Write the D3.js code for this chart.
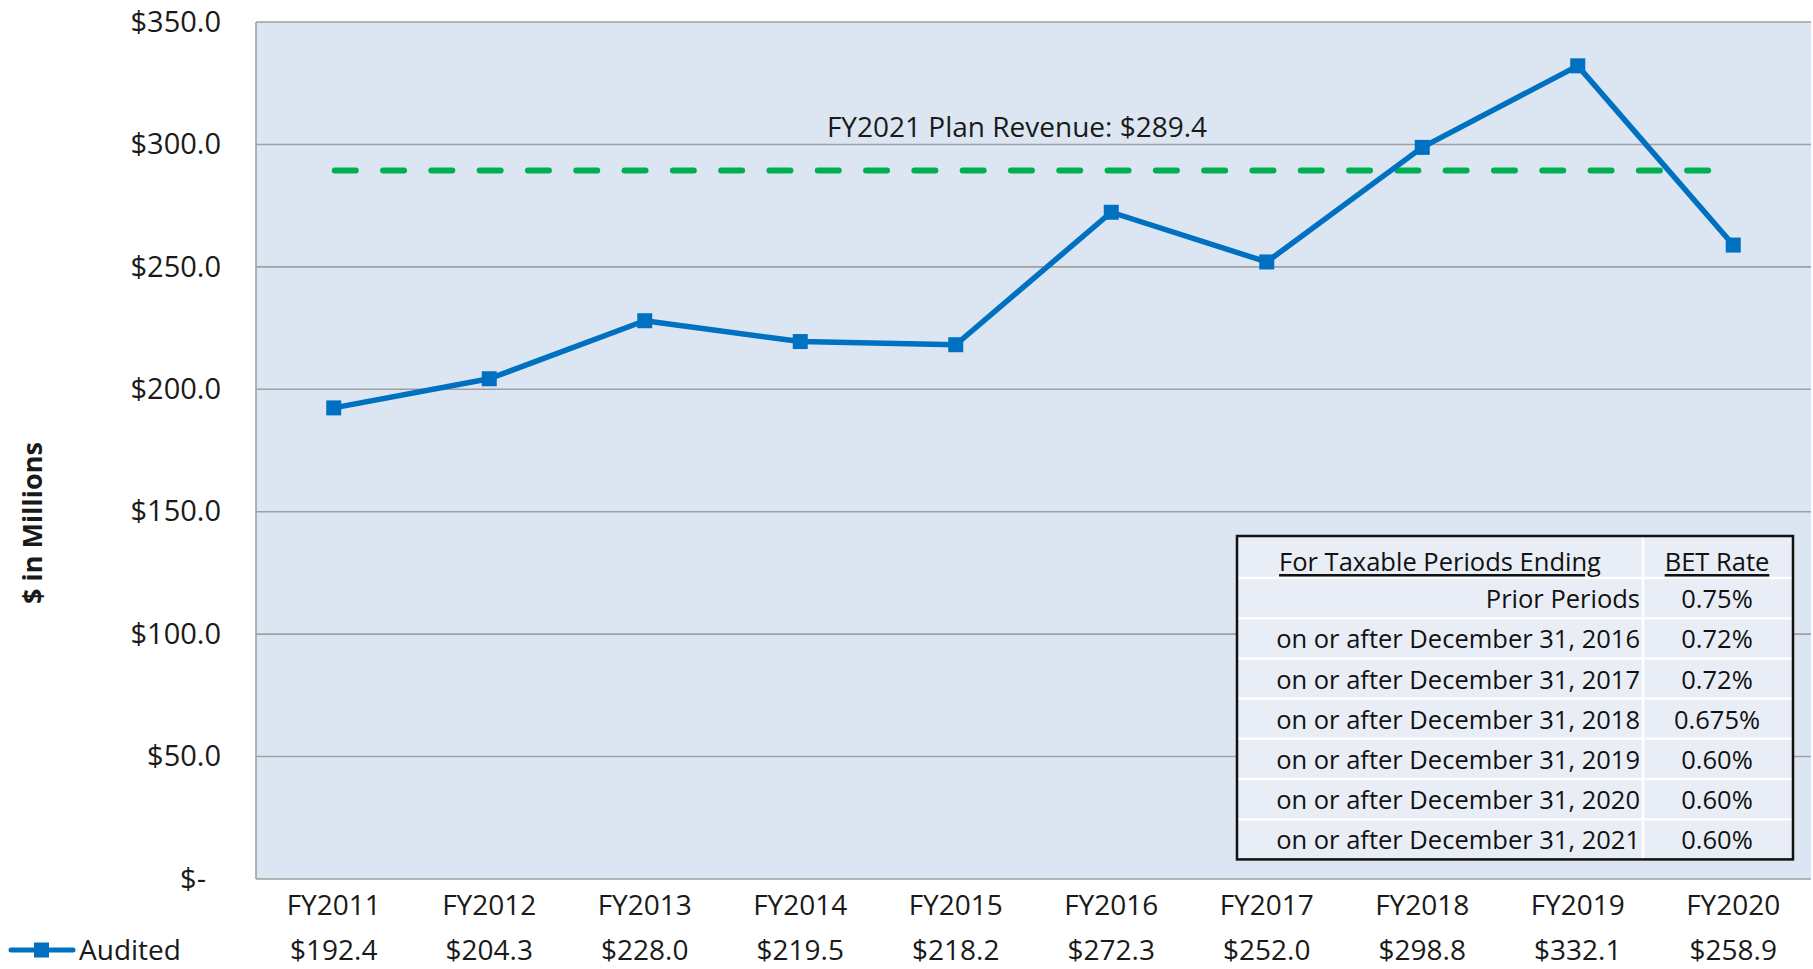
<!DOCTYPE html>
<html>
<head>
<meta charset="utf-8">
<script src="https://cdn.jsdelivr.net/npm/d3@7"></script>
<style>
  html, body { margin: 0; padding: 0; background: #fff; }
  svg { display: block; font-family: "Open Sans", sans-serif; }
</style>
</head>
<body>
<svg id="chart" width="1813" height="969"></svg>
<script>
const categories = ["FY2011","FY2012","FY2013","FY2014","FY2015","FY2016","FY2017","FY2018","FY2019","FY2020"];
const audited = [192.4, 204.3, 228.0, 219.5, 218.2, 272.3, 252.0, 298.8, 332.1, 258.9];
const planRevenue = 289.4;
const planLabel = "FY2021 Plan Revenue: $289.4";
const yTicks = [0, 50, 100, 150, 200, 250, 300, 350];
const tableHeader = ["For Taxable Periods Ending", "BET Rate"];
const tablePeriods = ["Prior Periods","on or after December 31, 2016","on or after December 31, 2017","on or after December 31, 2018","on or after December 31, 2019","on or after December 31, 2020","on or after December 31, 2021"];
const tableRates = ["0.75%","0.72%","0.72%","0.675%","0.60%","0.60%","0.60%"];

const svg = d3.select("#chart");
const L = 256, T = 22, R = 1811, B = 879;
const blue = "#0070C0";
const textCol = "#1a1a1a";

const x = d3.scaleBand().domain(categories).range([L, R]);
const cx = d => x(d) + x.bandwidth() / 2;
const y = d3.scaleLinear().domain([0, 350]).range([B, T]);

// plot background
svg.append("rect").attr("x", L).attr("y", T).attr("width", R - L).attr("height", B - T)
  .attr("fill", "#DCE6F2");

// gridlines
svg.append("g").selectAll("line").data(yTicks).join("line")
  .attr("x1", L).attr("x2", R).attr("y1", d => y(d)).attr("y2", d => y(d))
  .attr("stroke", "#A0A0A0").attr("stroke-width", 1.6);
svg.append("line").attr("x1", L).attr("x2", L).attr("y1", T).attr("y2", B)
  .attr("stroke", "#A0A0A0").attr("stroke-width", 1.6);

// y axis labels
const fmt = v => v === 0 ? "$-" : "$" + v.toFixed(1);
const yAxis = d3.axisLeft(y).tickValues(yTicks).tickFormat(fmt).tickSize(0).tickPadding(35);
const yg = svg.append("g").attr("transform", `translate(${L},0)`).call(yAxis);
yg.select(".domain").remove();
yg.selectAll("text").attr("font-size", 29).attr("fill", textCol).attr("font-family", "Open Sans");
yg.selectAll(".tick").filter(d => d === 0).select("text").attr("dx", -15);

// y axis title
svg.append("text").attr("transform", "translate(31,523) rotate(-90)")
  .attr("text-anchor", "middle").attr("dominant-baseline", "central")
  .attr("font-size", 27).attr("font-weight", "bold").attr("fill", textCol)
  .text("$ in Millions");

// x axis labels
const xAxis = d3.axisBottom(x).tickSize(0).tickPadding(0);
const xg = svg.append("g").attr("transform", `translate(0,${B})`).call(xAxis);
xg.select(".domain").remove();
xg.selectAll("text").attr("font-size", 28).attr("fill", textCol).attr("font-family", "Open Sans")
  .attr("dy", null).attr("y", 25).attr("dominant-baseline", "central");

// data table row (values)
svg.append("g").selectAll("text").data(audited).join("text")
  .attr("x", (d, i) => cx(categories[i])).attr("y", 949)
  .attr("text-anchor", "middle").attr("dominant-baseline", "central")
  .attr("font-size", 28).attr("fill", textCol)
  .text(d => "$" + d.toFixed(1));

// legend key
svg.append("line").attr("x1", 11).attr("x2", 73).attr("y1", 950).attr("y2", 950)
  .attr("stroke", blue).attr("stroke-width", 5).attr("stroke-linecap", "round");
svg.append("rect").attr("x", 34).attr("y", 942.5).attr("width", 15).attr("height", 15).attr("fill", blue);
svg.append("text").attr("x", 79).attr("y", 949).attr("dominant-baseline", "central")
  .attr("font-size", 28).attr("fill", textCol).text("Audited");

// plan line
svg.append("line")
  .attr("x1", cx(categories[0]) + 1).attr("x2", cx(categories[categories.length - 1]))
  .attr("y1", y(planRevenue)).attr("y2", y(planRevenue))
  .attr("stroke", "#00B050").attr("stroke-width", 6).attr("stroke-linecap", "round")
  .attr("stroke-dasharray", "21,27.3");
svg.append("text").attr("x", 1017).attr("y", 126)
  .attr("text-anchor", "middle").attr("dominant-baseline", "central")
  .attr("font-size", 28).attr("fill", textCol).text(planLabel);

// audited line
const line = d3.line().x((d, i) => cx(categories[i])).y(d => y(d));
svg.append("path").datum(audited).attr("d", line)
  .attr("fill", "none").attr("stroke", blue).attr("stroke-width", 5.5).attr("stroke-linejoin", "round");
svg.append("g").selectAll("rect").data(audited).join("rect")
  .attr("x", (d, i) => cx(categories[i]) - 7.5).attr("y", d => y(d) - 7.5)
  .attr("width", 15).attr("height", 15).attr("fill", blue);

// rate table
const tX = 1237, tW = 556, tY = 536, colX = 1643;
const headH = 42, rowH = 40.2;
const tH = headH + rowH * tablePeriods.length;
const tg = svg.append("g");
tg.append("rect").attr("x", tX).attr("y", tY).attr("width", tW).attr("height", tH)
  .attr("fill", "#E9EEF6");
tablePeriods.forEach((p, i) => {
  const yy = tY + headH + rowH * i;
  tg.append("line").attr("x1", tX).attr("x2", tX + tW).attr("y1", yy).attr("y2", yy)
    .attr("stroke", "#fff").attr("stroke-width", 2.5);
});
tg.append("line").attr("x1", colX).attr("x2", colX).attr("y1", tY).attr("y2", tY + tH)
  .attr("stroke", "#fff").attr("stroke-width", 2.5);
tg.append("rect").attr("x", tX).attr("y", tY).attr("width", tW).attr("height", tH)
  .attr("fill", "none").attr("stroke", "#111").attr("stroke-width", 2.5);

const tfs = 25.5;
tg.append("text").attr("x", 1440).attr("y", tY + 25).attr("text-anchor", "middle")
  .attr("dominant-baseline", "central").attr("font-size", tfs).attr("fill", "#111")
  .attr("text-decoration", "underline").text(tableHeader[0]);
tg.append("text").attr("x", 1717).attr("y", tY + 25).attr("text-anchor", "middle")
  .attr("dominant-baseline", "central").attr("font-size", tfs).attr("fill", "#111")
  .attr("text-decoration", "underline").text(tableHeader[1]);
tg.selectAll("text.period").data(tablePeriods).join("text").attr("class", "period")
  .attr("x", 1640).attr("y", (d, i) => tY + headH + rowH * i + rowH / 2)
  .attr("text-anchor", "end").attr("dominant-baseline", "central")
  .attr("font-size", tfs).attr("fill", "#111").text(d => d);
tg.selectAll("text.rate").data(tableRates).join("text").attr("class", "rate")
  .attr("x", 1717).attr("y", (d, i) => tY + headH + rowH * i + rowH / 2)
  .attr("text-anchor", "middle").attr("dominant-baseline", "central")
  .attr("font-size", tfs).attr("fill", "#111").text(d => d);
</script>
</body>
</html>
